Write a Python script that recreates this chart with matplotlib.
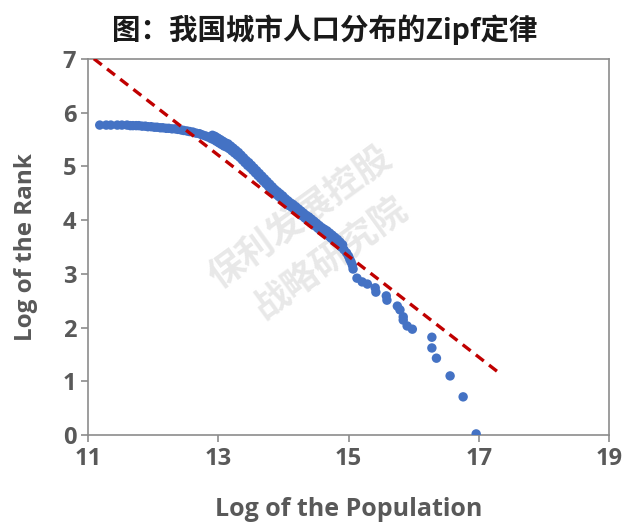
import numpy as np
import matplotlib
matplotlib.use("Agg")
import matplotlib.pyplot as plt

# 城市人口 Zipf 散点 (ln 人口, ln 排名)
log_pop = [11.18, 11.28, 11.35, 11.45, 11.52, 11.60, 11.65, 11.69, 11.74, 11.78,
           11.83, 11.88, 11.92, 11.97, 12.02, 12.06, 12.11, 12.15, 12.20, 12.24,
           12.29, 12.34, 12.38, 12.43, 12.47, 12.52, 12.56, 12.61, 12.66, 12.71,
           12.75, 12.80, 12.84, 12.89, 12.93, 12.97, 13.01, 13.05, 13.09, 13.13,
           13.17, 13.21, 13.25, 13.29, 13.33, 13.37, 13.41, 13.45, 13.49, 13.53,
           13.57, 13.61, 13.65, 13.69, 13.73, 13.77, 13.81, 13.85, 13.89, 13.93,
           13.97, 14.01, 14.05, 14.09, 14.13, 14.17, 14.21, 14.25, 14.29, 14.33,
           14.37, 14.41, 14.45, 14.49, 14.53, 14.57, 14.61, 14.65, 14.69, 14.73,
           14.77, 14.81, 14.85, 14.89, 14.93, 14.97, 15.00, 15.02, 15.04, 15.06,
           15.07, 15.13, 15.21, 15.29, 15.41, 15.42, 15.58, 15.59, 15.75, 15.79,
           15.84, 15.84, 15.90, 15.98, 16.28, 16.28, 16.35, 16.56, 16.76, 16.96]
log_rank = [5.77, 5.77, 5.77, 5.77, 5.77, 5.77, 5.76, 5.76, 5.76, 5.76,
            5.75, 5.75, 5.74, 5.74, 5.73, 5.73, 5.72, 5.72, 5.71, 5.71,
            5.70, 5.70, 5.69, 5.68, 5.67, 5.66, 5.65, 5.64, 5.62, 5.61,
            5.59, 5.57, 5.55, 5.52, 5.50, 5.47, 5.44, 5.41, 5.38, 5.36,
            5.33, 5.29, 5.25, 5.21, 5.17, 5.12, 5.07, 5.02, 4.98, 4.93,
            4.88, 4.83, 4.78, 4.73, 4.68, 4.63, 4.58, 4.53, 4.48, 4.44,
            4.40, 4.36, 4.31, 4.27, 4.24, 4.20, 4.16, 4.12, 4.08, 4.04,
            4.00, 3.97, 3.93, 3.89, 3.85, 3.81, 3.78, 3.75, 3.71, 3.67,
            3.63, 3.59, 3.55, 3.50, 3.45, 3.39, 3.33, 3.27, 3.22, 3.16,
            3.09, 2.92, 2.85, 2.81, 2.74, 2.66, 2.59, 2.51, 2.40, 2.33,
            2.20, 2.14, 2.03, 1.97, 1.82, 1.62, 1.43, 1.10, 0.71, 0.02]

# 密集段上沿的点
band_pop = [12.91, 12.95, 12.99, 13.03, 13.07, 13.11, 13.15, 13.19, 13.23, 13.27,
            13.31, 13.35, 13.39, 13.43, 13.47, 13.51, 13.55, 13.59, 13.63, 13.67,
            13.71, 13.75, 13.79, 13.83, 13.87, 13.91, 13.95, 13.99, 14.03, 14.07,
            14.11, 14.15, 14.19, 14.23, 14.27, 14.31, 14.35, 14.39, 14.43, 14.47,
            14.51, 14.55, 14.59, 14.63, 14.67, 14.71, 14.75, 14.79, 14.83, 14.87,
            14.91]
band_rank = [5.58, 5.56, 5.53, 5.50, 5.47, 5.44, 5.42, 5.38, 5.34, 5.30,
             5.26, 5.21, 5.16, 5.11, 5.07, 5.02, 4.97, 4.92, 4.87, 4.82,
             4.77, 4.72, 4.67, 4.62, 4.57, 4.53, 4.49, 4.45, 4.40, 4.36,
             4.32, 4.29, 4.25, 4.21, 4.17, 4.13, 4.09, 4.06, 4.02, 3.98,
             3.94, 3.90, 3.86, 3.83, 3.80, 3.76, 3.72, 3.68, 3.64, 3.59,
             3.54]

# 拟合线: ln(rank) = a + b * ln(pop)
fit_a = 17.43
fit_b = -0.94
fit_x = [11.09, 17.30]

plt.rcParams['font.family'] = ['Open Sans', 'Noto Sans CJK SC', 'DejaVu Sans']

fig = plt.figure(figsize=(6.3, 5.27), dpi=100)
ax = fig.add_axes([0.1397, 0.1746, 0.8270, 0.7134])

ax.scatter(log_pop + band_pop, log_rank + band_rank, s=46, color='#4472c4',
           edgecolors='none', zorder=3)
fx = np.array(fit_x)
ax.plot(fx, fit_a + fit_b * fx, color='#c00000', lw=2.4, ls=(0, (3, 2)), zorder=4)

ax.set_xlim(11, 19)
ax.set_ylim(0, 7)
ax.set_xticks([11, 13, 15, 17, 19])
ax.set_yticks(range(8))
for s in ax.spines.values():
    s.set_color('#8c8c8c')
    s.set_linewidth(1.2)
ax.tick_params(colors='#8c8c8c', length=5, width=1.2, labelcolor='#595959', labelsize=17)
for lb in ax.get_xticklabels() + ax.get_yticklabels():
    lb.set_fontweight('bold')

ax.set_xlabel('Log of the Population', fontsize=18, fontweight='bold', color='#595959', labelpad=19)
ax.set_ylabel('Log of the Rank', fontsize=17.5, fontweight='bold', color='#595959', labelpad=18)

fig.text(0.516, 0.943, '图：我国城市人口分布的Zipf定律', ha='center', va='center',
         fontsize=20.5, fontweight='bold', color='#1a1a1a',
         family=['Noto Sans CJK SC', 'DejaVu Sans'])

# 水印
ax.text(14.26, 4.05, '保利发展控股', rotation=36, ha='center', va='center', fontsize=26,
        fontweight='bold', color='#d6d6d6', alpha=0.55, family=['Noto Sans CJK SC'], zorder=1)
ax.text(14.72, 3.30, '战略研究院', rotation=36, ha='center', va='center', fontsize=26,
        fontweight='bold', color='#d6d6d6', alpha=0.55, family=['Noto Sans CJK SC'], zorder=1)

fig.savefig('out.png', dpi=100)
